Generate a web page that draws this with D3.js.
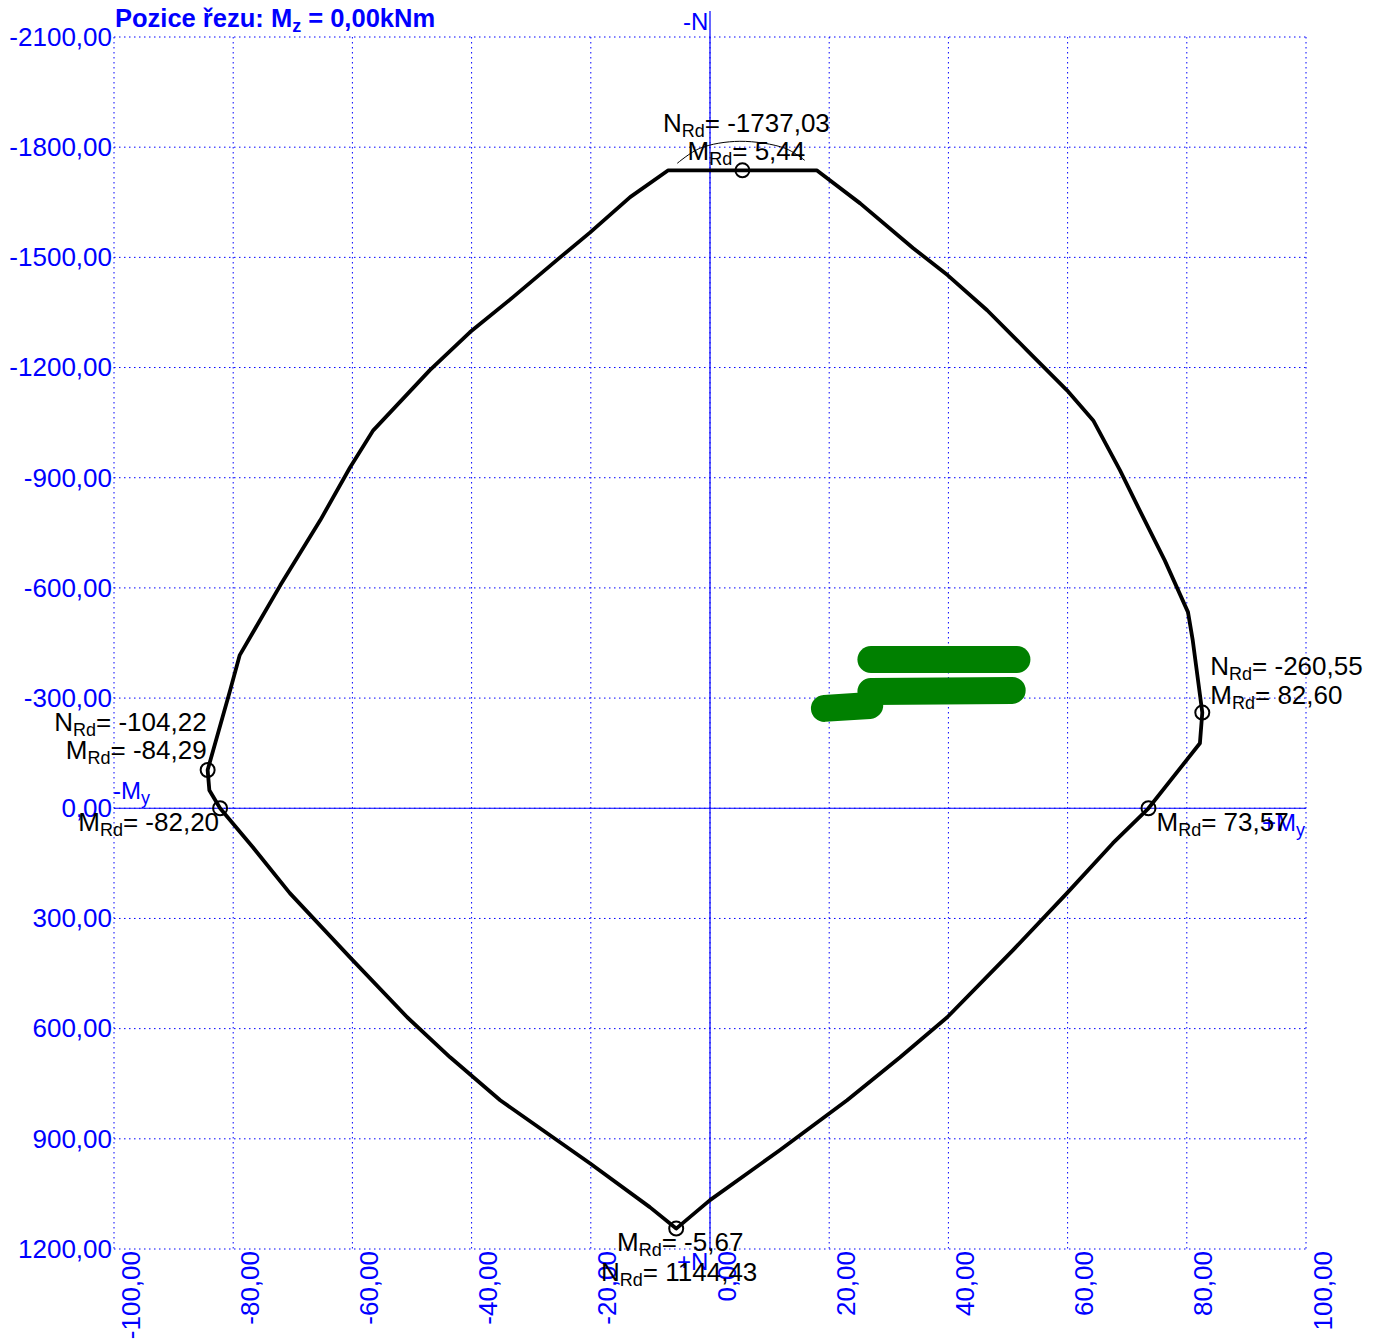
<!DOCTYPE html>
<html lang="cs">
<head>
<meta charset="UTF-8">
<title>Interakční diagram N-My</title>
<script src="https://d3js.org/d3.v7.min.js"></script>
<style>
  body { margin: 0; background: #fff; font-family: "Liberation Sans", Arial, sans-serif; }
  svg { display: block; background: #fff; }
  .grid line { stroke: #0000ff; stroke-width: 1; stroke-dasharray: 1.5,3.5; }
  .tick text { fill: #0000ff; font-size: 26px; font-family: "Liberation Sans", Arial, sans-serif; }
  .note { fill: #000; font-size: 26px; }
  .axis-name { fill: #0000ff; font-size: 24px; }
</style>
</head>
<body>
<svg id="chart"></svg>
<script>
// tick values
const mTicks = [-100, -80, -60, -40, -20, 0, 20, 40, 60, 80, 100];
const nTicks = [-2100, -1800, -1500, -1200, -900, -600, -300, 0, 300, 600, 900, 1200];

// interaction envelope [My (kNm), N (kN)], clockwise from top left
const envelope = [
  [-7.0, -1737.03], [17.9, -1737.03], [25.2, -1647], [34.1, -1525], [39.9, -1451],
  [46.5, -1356], [53.2, -1247], [59.9, -1138], [64.3, -1056], [68.8, -920],
  [72.1, -811], [76.3, -675], [80.2, -534], [81.0, -457], [82.6, -260.55],
  [82.2, -177], [73.57, 0], [67.6, 95], [59.9, 231], [50.8, 387],
  [39.8, 569], [31.9, 678], [23.0, 795], [11.7, 931], [0, 1067],
  [-5.67, 1144.43], [-10.1, 1086], [-20.1, 967], [-35.2, 795], [-43.6, 678],
  [-50.8, 569], [-60.4, 406], [-70.5, 231], [-76.7, 106], [-82.2, 0],
  [-84.0, -49], [-84.29, -104.22], [-80.5, -322], [-78.9, -417], [-72.1, -607],
  [-65.4, -784], [-60.4, -928], [-56.5, -1029], [-47.0, -1193], [-40.3, -1296],
  [-33.1, -1391], [-24.7, -1506], [-20.1, -1568], [-13.4, -1664]
];

// thin helper curve above the top marker
const topArc = [[-5.5, -1756], [-1.7, -1797], [5.0, -1816], [12.6, -1797], [15.9, -1764]];

// marked points
const markM = [5.44, 82.60, 73.57, -5.67, -84.29, -82.20];
const markN = [-1737.03, -260.55, 0, 1144.43, -104.22, 0];
const markPos = ["top", "right", "axisRight", "bottom", "left", "axisLeft"];

// scribbled-out text (green strokes)
const scribbles = [
  [[27.0, -405], [51.5, -405]],
  [[27.0, -318], [50.7, -321]],
  [[19.2, -272], [26.8, -280]]
];

const width = 1389, height = 1340;
const svg = d3.select("#chart").attr("width", width).attr("height", height);

const x = d3.scaleLinear().domain([-100, 100]).range([114, 1306]);
const y = d3.scaleLinear().domain([-2100, 1200]).range([37, 1249]);

const cz = d3.formatLocale({decimal: ",", thousands: "", grouping: [3], currency: ["", ""], minus: "-"});
const fmt = cz.format(".2f");

// grid
const grid = svg.append("g").attr("class", "grid");
grid.selectAll(".gv").data(mTicks).enter().append("line")
  .attr("x1", d => x(d)).attr("x2", d => x(d))
  .attr("y1", y(-2100)).attr("y2", y(1200));
grid.selectAll(".gh").data(nTicks).enter().append("line")
  .attr("x1", x(-100)).attr("x2", x(100))
  .attr("y1", d => y(d)).attr("y2", d => y(d));

// tick labels
const yAxis = svg.append("g").attr("transform", `translate(${x(-100)},0)`)
  .call(d3.axisLeft(y).tickValues(nTicks).tickFormat(fmt).tickSize(0).tickPadding(2));
yAxis.select(".domain").remove();

const xAxis = svg.append("g").attr("transform", `translate(0,${y(1200)})`)
  .call(d3.axisBottom(x).tickValues(mTicks).tickFormat(fmt).tickSize(0));
xAxis.select(".domain").remove();
xAxis.selectAll("text")
  .attr("transform", "rotate(-90)")
  .attr("text-anchor", "end")
  .attr("x", -2).attr("y", 25).attr("dy", null);

// main axes
svg.append("line").attr("x1", x(0)).attr("x2", x(0)).attr("y1", 11).attr("y2", y(1200))
  .attr("stroke", "#0000ff").attr("stroke-width", 1.2);
svg.append("line").attr("x1", x(-100)).attr("x2", x(100)).attr("y1", y(0)).attr("y2", y(0))
  .attr("stroke", "#0000ff").attr("stroke-width", 1.2);

function subText(g, main, sub, rest, px, py, anchor, cls) {
  const t = g.append("text").attr("class", cls).attr("x", px).attr("y", py).attr("text-anchor", anchor);
  t.append("tspan").text(main);
  t.append("tspan").attr("font-size", "18px").attr("dy", 5).text(sub);
  if (rest) t.append("tspan").attr("dy", -5).text(rest);
  return t;
}

// axis names
subText(svg, "-N", "", "", x(0) - 27, 30, "start", "axis-name");
subText(svg, "-M", "y", "", x(-100) - 1, y(0) - 9, "start", "axis-name");
subText(svg, "+M", "y", "", x(100) - 44, y(0) + 23, "start", "axis-name");
subText(svg, "+N", "", "", x(0) - 33, 1270, "start", "axis-name");

// scribbles
svg.append("g").selectAll("path").data(scribbles).enter().append("path")
  .attr("d", d3.line().x(d => x(d[0])).y(d => y(d[1])))
  .attr("fill", "none").attr("stroke", "#008000")
  .attr("stroke-width", 27).attr("stroke-linecap", "round");

// envelope
svg.append("path").datum(envelope)
  .attr("d", d3.line().x(d => x(d[0])).y(d => y(d[1])).curve(d3.curveLinearClosed))
  .attr("fill", "none").attr("stroke", "#000").attr("stroke-width", 3.8)
  .attr("stroke-linejoin", "round");

svg.append("path").datum(topArc)
  .attr("d", d3.line().x(d => x(d[0])).y(d => y(d[1])).curve(d3.curveCatmullRom))
  .attr("fill", "none").attr("stroke", "#000").attr("stroke-width", 1);

// markers and labels
const notes = svg.append("g");
markM.forEach((m, i) => {
  const px = x(m), py = y(markN[i]);
  notes.append("circle").attr("cx", px).attr("cy", py).attr("r", 7)
    .attr("fill", "none").attr("stroke", "#000").attr("stroke-width", 2);
  const nTxt = "= " + fmt(markN[i]), mTxt = "= " + fmt(m);
  switch (markPos[i]) {
    case "top":
      subText(notes, "N", "Rd", nTxt, px + 4, py - 38, "middle", "note");
      subText(notes, "M", "Rd", mTxt, px + 4, py - 10, "middle", "note");
      break;
    case "bottom":
      subText(notes, "M", "Rd", mTxt, px + 4, py + 22, "middle", "note");
      subText(notes, "N", "Rd", nTxt, px + 3, py + 52, "middle", "note");
      break;
    case "right":
      subText(notes, "N", "Rd", nTxt, px + 8, py - 38, "start", "note");
      subText(notes, "M", "Rd", mTxt, px + 8, py - 9, "start", "note");
      break;
    case "left":
      subText(notes, "N", "Rd", nTxt, px - 1, py - 39, "end", "note");
      subText(notes, "M", "Rd", mTxt, px - 1, py - 11, "end", "note");
      break;
    case "axisRight":
      subText(notes, "M", "Rd", mTxt, px + 8, py + 23, "start", "note");
      break;
    case "axisLeft":
      subText(notes, "M", "Rd", mTxt, px - 1, py + 23, "end", "note");
      break;
  }
});

// title
const title = svg.append("text").attr("x", 115).attr("y", 27)
  .attr("fill", "#0000ff").attr("font-weight", "bold").attr("font-size", "25.5px");
title.append("tspan").text("Pozice řezu: M");
title.append("tspan").attr("font-size", "18px").attr("dy", 5).text("z");
title.append("tspan").attr("dy", -5).text(" = 0,00kNm");
</script>
</body>
</html>
